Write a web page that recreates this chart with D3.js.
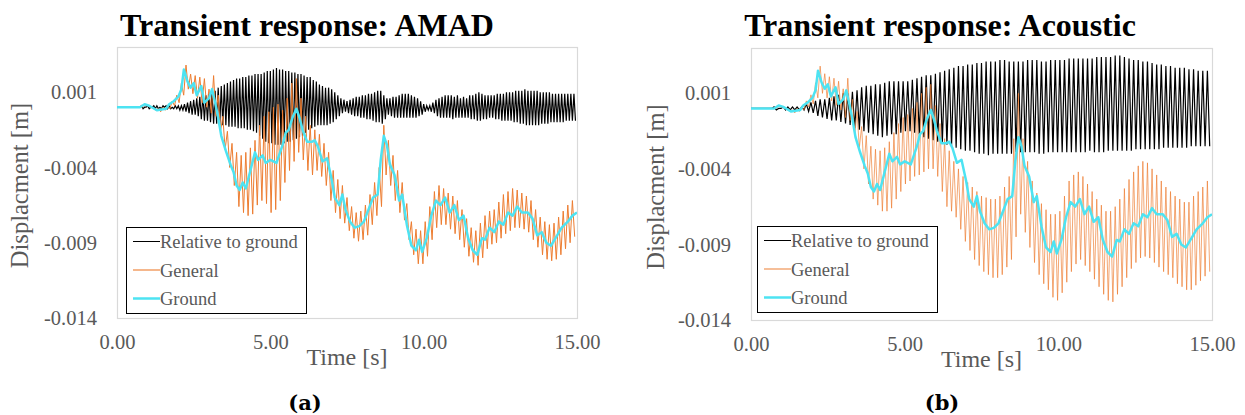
<!DOCTYPE html>
<html>
<head>
<meta charset="utf-8">
<script src="https://cdn.jsdelivr.net/npm/d3@7"></script>
<style>
  body { margin: 0; background: #fff; }
  svg { display: block; }
</style>
</head>
<body>
<svg id="chart" width="1245" height="415"></svg>
<script>
// Displacement samples are stored in units of 0.1 mm (1e-4 m).
const UNIT = 1e-4;

// Axis ticks
const timeTicks = [0, 5, 10, 15];
const timeTickLabels = ["0.00", "5.00", "10.00", "15.00"];
const dispTicks = [0.001, -0.004, -0.009, -0.014];
const dispTickLabels = ["0.001", "-0.004", "-0.009", "-0.014"];
const seriesNames = ["Relative to ground", "General", "Ground"];

// Ground motion (same excitation in both analyses): time [s], displacement [0.1 mm]
const groundTime = [0,0.75,0.9,1.05,1.3,1.6,1.7,1.85,2.0,2.1,2.18,2.3,2.4,2.5,2.6,2.75,2.85,3.0,3.1,3.2,
  3.3,3.4,3.55,3.7,3.8,3.9,4.0,4.1,4.2,4.35,4.5,4.6,4.75,4.85,5.0,5.2,5.4,5.5,5.6,5.72,
  5.85,5.95,6.05,6.2,6.35,6.45,6.55,6.7,6.85,7.0,7.1,7.25,7.35,7.45,7.6,7.75,7.9,8.05,8.2,8.35,
  8.5,8.6,8.7,8.8,8.9,9.05,9.2,9.3,9.45,9.6,9.75,9.85,9.95,10.1,10.25,10.4,10.55,10.7,10.85,11.0,
  11.15,11.3,11.45,11.6,11.75,11.9,12.0,12.15,12.3,12.45,12.6,12.75,12.9,13.05,13.2,13.4,13.55,13.7,13.85,14.0,
  14.15,14.3,14.5,14.7,14.85,15.0];
const groundDisp = [0,0,2,1,-2,-1,2,4,7,12,25,17,13,16,8,14,3,6,12,3,
  -7,-19,-29,-38,-43,-52,-55,-50,-54,-42,-30,-35,-32,-37,-35,-37,-25,-17,-15,-7,
  -1,-7,-15,-23,-23,-22,-26,-36,-34,-48,-60,-65,-58,-68,-76,-80,-79,-76,-68,-60,
  -58,-35,-19,-25,-38,-45,-62,-58,-78,-92,-95,-88,-96,-87,-72,-62,-65,-60,-70,-65,
  -75,-72,-87,-95,-98,-87,-88,-80,-83,-76,-78,-70,-72,-66,-70,-70,-74,-85,-83,-90,
  -92,-87,-80,-76,-72,-70];

// AMAD model, relative to ground: crest / trough of each 0.1 s cycle [0.1 mm]
const relAmadPeriod = 0.1;
const relAmadCrest = [0,0,0,0,0,0,0, 0,1,0,
  1,0,1,1,0,1,1,1,0,1,
  1,1,2,3,4,5,6,7,8,8,
  9,10,11,13,14,15,16,17,18,19,
  19,20,20,21,21,22,22,22,23,24,
  24,25,26,25,25,24,24,23,23,22,
  22,21,20,20,18,17,15,14,13,13,
  12,10,8,6,5,4,5,6,7,7,
  8,8,9,9,10,11,11,8,6,6,
  7,7,8,9,9,9,8,7,6,4,
  2,1,1,3,5,6,7,8,8,8,
  7,8,6,7,6,8,8,9,10,9,
  8,8,8,8,9,9,9,10,10,10,
  11,11,11,12,11,11,11,11,10,10,
  10,10,9,9,9,9,9,9,9,9];
const relAmadTrough = [0,0,0,0,0,0,0, 0,-1,0,
  -1,0,-1,-1,-1,0,-1,-1,-1,-1,
  -2,-2,-3,-4,-5,-5,-6,-8,-9,-9,
  -10,-11,-11,-12,-12,-12,-13,-13,-13,-14,
  -14,-14,-15,-15,-16,-17,-19,-21,-23,-24,
  -24,-25,-25,-25,-24,-23,-23,-22,-21,-20,
  -19,-17,-15,-14,-13,-12,-12,-12,-12,-11,
  -10,-8,-6,-4,-3,-4,-5,-6,-6,-7,
  -7,-8,-8,-9,-10,-10,-11,-8,-5,-6,
  -7,-7,-7,-7,-7,-7,-7,-7,-6,-5,
  -3,-2,-3,-4,-6,-7,-7,-7,-7,-8,
  -7,-7,-7,-7,-7,-8,-8,-9,-9,-8,
  -8,-7,-7,-8,-8,-9,-9,-9,-9,-10,
  -10,-11,-11,-12,-12,-12,-12,-12,-11,-11,
  -11,-10,-10,-10,-10,-10,-9,-9,-9,-9];

// AMAD model, general (absolute) displacement: crest / trough of each 0.15 s cycle
const genAmadPeriod = 0.15;
const genAmadCrest = [0,0,0,0,0,0, 2,1,-1,-1,0,1,
  4,8,16,28,22,21,20,19,
  12,21,8,-6,-16,-24,-30,-32,-30,-27,
  -22,-12,-6,-3,0,2,-2,6,16,19,
  6,-6,-12,-15,-18,-24,-30,-42,-48,-52,
  -60,-66,-70,-69,-65,-58,-50,-40,-12,-22,
  -32,-42,-50,-64,-76,-81,-82,-76,-66,-56,
  -52,-54,-57,-59,-62,-68,-74,-80,-82,-77,
  -72,-69,-68,-63,-58,-56,-54,-55,-57,-59,
  -62,-68,-73,-76,-78,-77,-73,-69,-65,-62];
const genAmadTrough = [0,0,0,0,0,0, 1,0,-2,-3,-2,-1,
  1,3,8,12,9,6,3,0,
  -4,-6,-16,-28,-40,-52,-66,-70,-72,-71,
  -65,-62,-64,-70,-68,-62,-50,-42,-36,-30,
  -35,-42,-45,-42,-46,-52,-62,-70,-74,-77,
  -82,-87,-89,-88,-85,-78,-72,-66,-45,-52,
  -62,-70,-75,-88,-98,-104,-104,-99,-88,-80,
  -78,-78,-81,-84,-88,-93,-99,-103,-105,-100,
  -94,-91,-90,-87,-84,-82,-80,-80,-81,-83,
  -88,-93,-98,-101,-102,-101,-98,-94,-90,-86];

// Acoustic model, relative to ground: crest / trough of each 0.15 s cycle
const relAcouPeriod = 0.15;
const relAcouCrest = [0,0,0,0,0, 1,0,1,1,1,1, 1,
  3,4,5,6,6,7,8,9,
  10,10,11,12,14,15,15,16,16,17,
  18,18,18,18,18,19,20,21,22,22,
  23,24,25,26,27,28,28,29,29,30,
  30,31,31,31,32,32,31,31,31,31,
  32,32,32,31,31,32,32,32,32,33,
  33,33,33,33,33,34,34,34,34,35,
  35,34,33,32,32,31,31,30,29,29,
  28,28,27,27,27,26,26,25,25,25];
const relAcouTrough = [0,0,0,0,0, -1,0,-1,-1,-1,-1, -1,
  -2,-3,-5,-6,-7,-8,-8,-9,
  -10,-11,-13,-14,-15,-16,-17,-18,-19,-18,
  -17,-17,-16,-15,-15,-16,-17,-19,-20,-21,
  -22,-23,-24,-25,-26,-27,-28,-28,-29,-30,
  -30,-31,-30,-30,-30,-30,-30,-29,-29,-29,
  -29,-29,-30,-30,-29,-29,-29,-29,-29,-29,
  -29,-29,-29,-28,-29,-29,-29,-28,-28,-28,
  -28,-28,-28,-27,-27,-27,-27,-27,-27,-26,
  -26,-26,-26,-26,-26,-25,-25,-25,-25,-25];

// Acoustic model, general displacement: crest / trough of each 0.15 s cycle
const genAcouPeriod = 0.15;
const genAcouCrest = [0,0,0,0,0,0, 2,1,-1,-1,0,1,
  5,9,17,28,23,21,20,18,
  13,20,6,-2,-12,-18,-25,-27,-28,-26,
  -22,-16,-10,-6,-4,0,4,10,14,16,
  2,-10,-20,-28,-35,-40,-45,-49,-52,-55,
  -58,-59,-60,-60,-58,-52,-45,-20,10,-20,
  -35,-48,-56,-63,-67,-70,-70,-68,-58,-48,
  -44,-42,-45,-50,-55,-60,-64,-68,-68,-65,
  -60,-53,-47,-42,-38,-35,-36,-40,-44,-48,
  -52,-55,-58,-60,-62,-62,-58,-55,-52,-48];
const genAcouTrough = [0,0,0,0,0,0, 1,0,-2,-3,-2,-1,
  1,3,7,10,7,5,2,-1,
  -6,-8,-18,-26,-40,-50,-60,-64,-68,-68,
  -66,-60,-55,-50,-48,-45,-44,-42,-40,-40,
  -45,-55,-65,-68,-72,-80,-88,-94,-100,-104,
  -108,-110,-112,-112,-110,-105,-100,-85,-70,-82,
  -92,-102,-110,-116,-120,-125,-127,-122,-115,-108,
  -103,-100,-104,-108,-113,-118,-123,-127,-128,-123,
  -118,-112,-106,-102,-99,-98,-99,-102,-105,-108,
  -110,-112,-116,-118,-120,-120,-117,-114,-111,-108];

const panels = [
  {
    title: "Transient response: AMAD", caption: "(a)",
    rel: { crest: relAmadCrest, trough: relAmadTrough, period: relAmadPeriod },
    gen: { crest: genAmadCrest, trough: genAmadTrough, period: genAmadPeriod },
    box: { x0: 117, x1: 577, y0: 47, y1: 318 },
    genWidth: 1, genOpacity: 1,
    legend: { x: 126, y: 227, w: 180, h: 86 },
    yTitleX: 28, titleX: 307, captionX: 305
  },
  {
    title: "Transient response: Acoustic", caption: "(b)",
    rel: { crest: relAcouCrest, trough: relAcouTrough, period: relAcouPeriod },
    gen: { crest: genAcouCrest, trough: genAcouTrough, period: genAcouPeriod },
    box: { x0: 751, x1: 1212, y0: 48, y1: 320 },
    genWidth: 0.8, genOpacity: 0.85,
    legend: { x: 757, y: 226, w: 180, h: 86 },
    yTitleX: 664, titleX: 940, captionX: 942
  }
];

const COLORS = { rel: "#000000", gen: "#ED7D31", ground: "#4DE3F2", text: "#595959", frame: "#D9D9D9" };
const SERIF = "'Liberation Serif', 'Times New Roman', serif";

const svg = d3.select("#chart");

// Turns crest/trough lists into an alternating polyline in time
function cycleSeries(s) {
  const pts = [];
  s.crest.forEach((c, i) => {
    pts.push([i * s.period, c * UNIT]);
    pts.push([i * s.period + s.period / 2, s.trough[i] * UNIT]);
  });
  return pts;
}
const groundSeries = groundTime.map((t, i) => [t, groundDisp[i] * UNIT]);

panels.forEach((p, k) => {
  const b = p.box;
  const x = d3.scaleLinear().domain([0, 15]).range([b.x0, b.x1]);
  const y = d3.scaleLinear().domain([-0.014, 0.004]).range([b.y1, b.y0]);
  const g = svg.append("g");
  const cx = (b.x0 + b.x1) / 2;

  // Title
  g.append("text").attr("x", p.titleX).attr("y", 36)
    .attr("text-anchor", "middle")
    .style("font-family", SERIF).style("font-weight", "bold").style("font-size", "32px")
    .attr("fill", "#000").text(p.title);

  // Plot frame
  g.append("rect").attr("x", b.x0 + 0.5).attr("y", b.y0 + 0.5)
    .attr("width", b.x1 - b.x0).attr("height", b.y1 - b.y0)
    .attr("fill", "none").attr("stroke", COLORS.frame).attr("stroke-width", 1.2);

  // Axes
  const xAxis = d3.axisBottom(x).tickValues(timeTicks)
    .tickFormat((d, i) => timeTickLabels[i]).tickSize(0).tickPadding(16);
  const gx = g.append("g").attr("transform", `translate(0,${b.y1})`).call(xAxis);
  const yAxis = d3.axisLeft(y).tickValues(dispTicks)
    .tickFormat((d, i) => dispTickLabels[i]).tickSize(0).tickPadding(20);
  const gy = g.append("g").attr("transform", `translate(${b.x0},0)`).call(yAxis);
  [gx, gy].forEach(a => {
    a.select(".domain").remove();
    a.selectAll("text").style("font-family", SERIF).style("font-size", "20.5px").attr("fill", COLORS.text);
  });

  // Axis titles
  g.append("text").attr("x", cx).attr("y", b.y1 + 47).attr("text-anchor", "middle")
    .style("font-family", SERIF).style("font-size", "24px").attr("fill", COLORS.text).text("Time [s]");
  g.append("text").attr("transform", `translate(${p.yTitleX},${(b.y0 + b.y1) / 2 + 3}) rotate(-90)`)
    .attr("text-anchor", "middle")
    .style("font-family", SERIF).style("font-size", "24.5px").attr("fill", COLORS.text).text("Displacment [m]");

  // Series
  const clipId = "clip" + k;
  svg.append("clipPath").attr("id", clipId).append("rect")
    .attr("x", b.x0).attr("y", b.y0).attr("width", b.x1 - b.x0).attr("height", b.y1 - b.y0);
  const line = d3.line().x(d => x(d[0])).y(d => y(d[1]));
  const plot = g.append("g").attr("clip-path", `url(#${clipId})`);
  plot.append("path").attr("d", line(cycleSeries(p.rel)))
    .attr("fill", "none").attr("stroke", COLORS.rel).attr("stroke-width", 1.2);
  plot.append("path").attr("d", line(cycleSeries(p.gen)))
    .attr("fill", "none").attr("stroke", COLORS.gen).attr("stroke-width", p.genWidth)
    .attr("stroke-opacity", p.genOpacity);
  plot.append("path").attr("d", line(groundSeries))
    .attr("fill", "none").attr("stroke", COLORS.ground).attr("stroke-width", 2.5)
    .attr("stroke-linejoin", "round");

  // Legend
  const L = p.legend;
  const lg = g.append("g").attr("transform", `translate(${L.x},${L.y})`);
  lg.append("rect").attr("x", 0.5).attr("y", 0.5).attr("width", L.w).attr("height", L.h)
    .attr("fill", "#fff").attr("stroke", "#000").attr("stroke-width", 1);
  const legendStyle = [
    { color: COLORS.rel, width: 1, opacity: 1 },
    { color: COLORS.gen, width: p.genWidth + 0.6, opacity: 0.7 },
    { color: COLORS.ground, width: 2.5, opacity: 1 }
  ];
  seriesNames.forEach((name, i) => {
    const yy = 14.5 + i * 28.5;
    lg.append("line").attr("x1", 7).attr("x2", 34).attr("y1", yy).attr("y2", yy)
      .attr("stroke", legendStyle[i].color).attr("stroke-width", legendStyle[i].width)
      .attr("stroke-opacity", legendStyle[i].opacity);
    lg.append("text").attr("x", 34).attr("y", yy + 6.5)
      .style("font-family", SERIF).style("font-size", "18.5px").attr("fill", COLORS.text).text(name);
  });

  // Sub-figure caption
  g.append("text").attr("x", p.captionX).attr("y", 410).attr("text-anchor", "middle")
    .style("font-family", "'DejaVu Serif', serif").style("font-weight", "bold").style("font-size", "21px")
    .attr("fill", "#000").text(p.caption);
});
</script>
</body>
</html>
